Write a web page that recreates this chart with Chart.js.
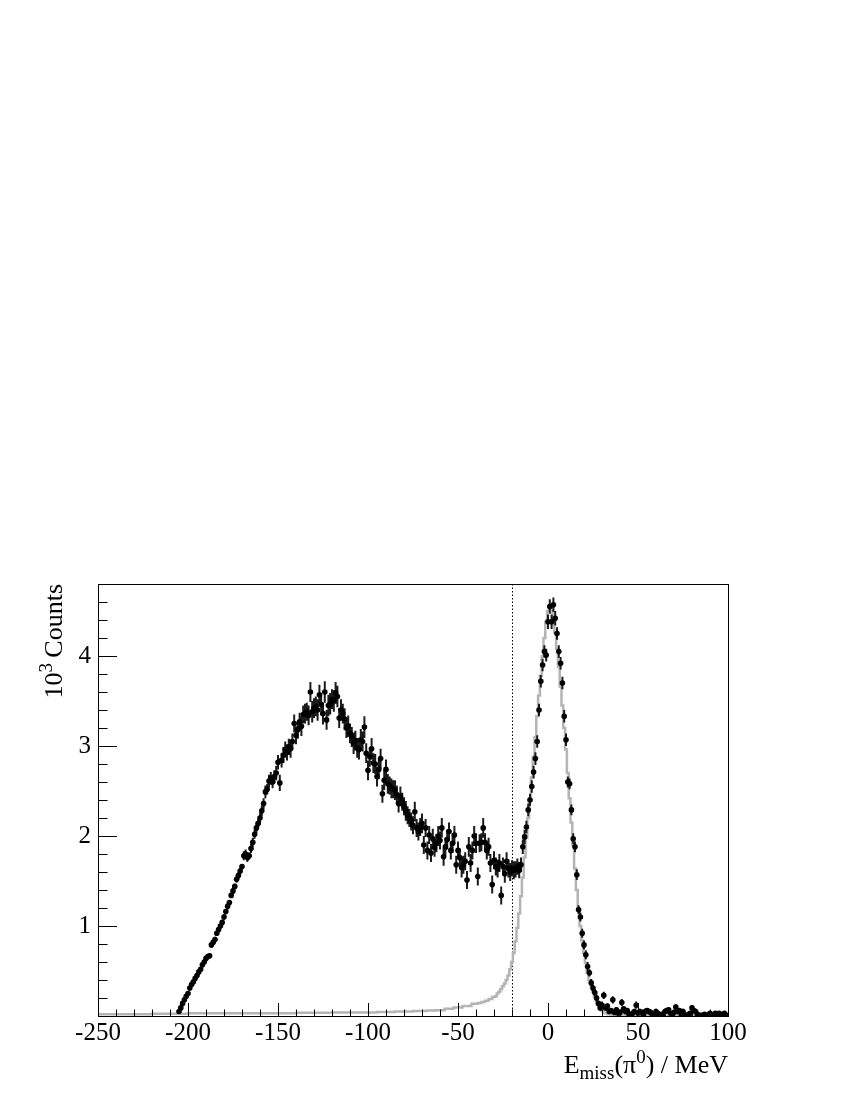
<!DOCTYPE html>
<html>
<head>
<meta charset="utf-8">
<script src="https://cdn.jsdelivr.net/npm/chart.js@4"></script>
<style>
  html, body { margin: 0; padding: 0; background: #fff; }
  #wrap { width: 850px; height: 1100px; }
</style>
</head>
<body>
<div id="wrap"><canvas id="emissChart" width="850" height="1100"></canvas></div>
<script>
// missing energy spectrum, 1 MeV bins, counts in units of 10^3
const firstBin = -205; // centre of first data bin (MeV)

const dataCounts = [
  0.05, 0.09, 0.14, 0.18, 0.22, 0.25, 0.31, 0.35, 0.38, 0.42, // -205
  0.45, 0.49, 0.52, 0.57, 0.60, 0.64, 0.66, 0.67, 0.79, 0.82, // -195
  0.85, 0.92, 0.96, 1.00, 1.04, 1.10, 1.16, 1.22, 1.26, 1.34, // -185
  1.39, 1.44, 1.52, 1.56, 1.61, 1.66, 1.78, 1.80, 1.76, 1.78, // -175
  1.86, 1.93, 2.02, 2.09, 2.14, 2.20, 2.28, 2.36, 2.49, 2.52, // -165
  2.61, 2.64, 2.60, 2.66, 2.70, 2.82, 2.59, 2.84, 2.90, 2.96, // -155
  2.93, 2.99, 2.97, 3.05, 3.25, 3.12, 3.18, 3.27, 3.22, 3.35, // -145
  3.36, 3.38, 3.34, 3.60, 3.38, 3.42, 3.44, 3.40, 3.57, 3.46, // -135
  3.36, 3.60, 3.29, 3.45, 3.47, 3.52, 3.50, 3.59, 3.55, 3.31, // -125
  3.40, 3.36, 3.30, 3.20, 3.22, 3.14, 3.10, 3.03, 3.06, 2.98, // -115
  2.96, 3.07, 3.05, 3.21, 2.92, 2.73, 2.88, 2.97, 2.81, 2.80, // -105
  2.66, 2.74, 2.86, 2.47, 2.62, 2.74, 2.58, 2.56, 2.53, 2.52, // -95
  2.51, 2.46, 2.36, 2.44, 2.38, 2.33, 2.28, 2.23, 2.20, 2.16, // -85
  2.12, 2.27, 2.09, 2.05, 2.10, 2.14, 1.90, 2.09, 1.84, 2.01, // -75
  1.81, 1.97, 1.87, 1.92, 2.00, 1.95, 2.09, 1.77, 1.88, 1.96, // -65
  2.05, 1.84, 1.92, 2.01, 1.68, 1.84, 1.76, 1.65, 1.68, 1.72, // -55
  1.51, 1.88, 1.70, 1.84, 2.00, 1.92, 1.55, 1.92, 1.93, 2.09, // -45
  1.93, 1.84, 1.88, 1.70, 1.46, 1.73, 1.66, 1.64, 1.70, 1.34, // -35
  1.66, 1.58, 1.72, 1.64, 1.60, 1.64, 1.62, 1.63, 1.66, 1.62, // -25
  1.68, 1.88, 1.99, 2.10, 2.29, 2.40, 2.55, 2.71, 2.86, 3.05, // -15
  3.40, 3.72, 3.90, 4.05, 4.01, 4.38, 4.55, 4.38, 4.57, 4.42, // -5
  4.25, 4.05, 3.92, 3.70, 3.33, 3.07, 2.60, 2.58, 2.29, 1.97, // 5
  1.88, 1.57, 1.18, 1.10, 0.92, 0.79, 0.68, 0.55, 0.48, 0.37, // 15
  0.31, 0.26, 0.20, 0.14, 0.09, 0.12, 0.23, 0.09, 0.11, 0.05, // 25
  0.06, 0.18, 0.04, 0.07, 0.03, 0.04, 0.15, 0.08, 0.05, 0.06, // 35
  0.02, 0.01, 0.03, 0.05, 0.12, 0.03, 0.05, 0.04, 0.01, 0.05, // 45
  0.06, 0.05, 0.04, 0.02, 0.01, 0.05, 0.03, 0.01, 0.02, 0.00, // 55
  0.05, 0.06, 0.07, 0.03, 0.01, 0.04, 0.10, 0.05, 0.06, 0.02, // 65
  0.05, 0.01, 0.00, 0.02, 0.03, 0.09, 0.06, 0.05, 0.02, 0.01, // 75
  0.00, 0.01, 0.02, 0.00, 0.01, 0.03, 0.01, 0.00, 0.03, 0.02, // 85
  0.03, 0.01, 0.02, 0.03, 0.01                                // 95
];

const dataErrors = [
  0.02, 0.02, 0.02, 0.02, 0.02, 0.02, 0.02, 0.03, 0.02, 0.03,
  0.02, 0.03, 0.02, 0.03, 0.03, 0.02, 0.03, 0.03, 0.03, 0.03,
  0.03, 0.03, 0.03, 0.03, 0.03, 0.03, 0.03, 0.04, 0.03, 0.03,
  0.04, 0.03, 0.04, 0.04, 0.04, 0.03, 0.05, 0.05, 0.05, 0.04,
  0.05, 0.05, 0.05, 0.06, 0.05, 0.06, 0.06, 0.06, 0.07, 0.06,
  0.07, 0.07, 0.07, 0.07, 0.08, 0.08, 0.09, 0.08, 0.09, 0.09,
  0.09, 0.09, 0.10, 0.09, 0.10, 0.10, 0.10, 0.10, 0.11, 0.10,
  0.11, 0.10, 0.11, 0.11, 0.12, 0.11, 0.11, 0.12, 0.11, 0.12,
  0.12, 0.12, 0.11, 0.12, 0.12, 0.11, 0.12, 0.12, 0.12, 0.11,
  0.12, 0.11, 0.12, 0.11, 0.12, 0.11, 0.11, 0.12, 0.11, 0.11,
  0.11, 0.12, 0.11, 0.12, 0.11, 0.11, 0.11, 0.12, 0.11, 0.11,
  0.11, 0.11, 0.11, 0.10, 0.11, 0.11, 0.11, 0.10, 0.11, 0.10,
  0.11, 0.10, 0.10, 0.11, 0.10, 0.10, 0.11, 0.10, 0.10, 0.10,
  0.10, 0.11, 0.10, 0.10, 0.10, 0.11, 0.10, 0.10, 0.10, 0.10,
  0.10, 0.11, 0.10, 0.10, 0.11, 0.10, 0.11, 0.10, 0.10, 0.11,
  0.10, 0.10, 0.11, 0.10, 0.10, 0.10, 0.10, 0.11, 0.10, 0.10,
  0.10, 0.11, 0.10, 0.10, 0.11, 0.11, 0.10, 0.10, 0.10, 0.11,
  0.10, 0.10, 0.10, 0.10, 0.10, 0.10, 0.10, 0.10, 0.10, 0.10,
  0.10, 0.10, 0.10, 0.10, 0.10, 0.09, 0.10, 0.09, 0.09, 0.09,
  0.08, 0.08, 0.08, 0.07, 0.07, 0.07, 0.07, 0.07, 0.07, 0.07,
  0.07, 0.07, 0.07, 0.07, 0.07, 0.08, 0.08, 0.08, 0.08, 0.08,
  0.07, 0.07, 0.07, 0.07, 0.07, 0.07, 0.06, 0.06, 0.06, 0.06,
  0.06, 0.06, 0.05, 0.05, 0.05, 0.05, 0.05, 0.05, 0.04, 0.04,
  0.04, 0.04, 0.04, 0.03, 0.03, 0.04, 0.04, 0.03, 0.03, 0.03,
  0.03, 0.04, 0.03, 0.03, 0.02, 0.03, 0.04, 0.03, 0.03, 0.03,
  0.02, 0.02, 0.03, 0.03, 0.04, 0.02, 0.03, 0.03, 0.02, 0.03,
  0.03, 0.03, 0.03, 0.02, 0.02, 0.03, 0.02, 0.02, 0.02, 0.02,
  0.03, 0.03, 0.03, 0.02, 0.02, 0.03, 0.03, 0.03, 0.03, 0.02,
  0.03, 0.02, 0.02, 0.02, 0.02, 0.03, 0.03, 0.03, 0.02, 0.02,
  0.02, 0.02, 0.02, 0.02, 0.02, 0.02, 0.02, 0.02, 0.02, 0.02,
  0.02, 0.02, 0.02, 0.02, 0.02
];

// simulated pi0 line shape (grey histogram)
const simEnergy = [
  -250, -230, -210, -190, -170, -150, -130, -110, -100, -90, -80, -70, -65, -60, -55, -50, -45,
  -40, -38, -36, -34, -32, -30, -29, -28, -27, -26, -25, -24, -23, -22, -21, -20, -19, -18,
  -17, -16, -15, -14, -13, -12, -11, -10, -9, -8, -7, -6, -5, -4, -3, -2, -1, 0, 1, 2, 3, 4,
  5, 6, 7, 8, 9, 10, 11, 12, 13, 14, 15, 16, 17, 18, 19, 20, 21, 22, 23, 24, 25, 26, 27, 28,
  29, 30, 31, 32, 34, 36, 40, 50, 60, 80, 100
];
const simCounts = [
  0.02, 0.02, 0.025, 0.03, 0.03, 0.03, 0.035, 0.04, 0.04, 0.045, 0.05, 0.055, 0.06, 0.065, 0.08, 0.095, 0.11,
  0.135, 0.145, 0.155, 0.17, 0.19, 0.21, 0.22, 0.25, 0.27, 0.30, 0.33, 0.36, 0.40, 0.45, 0.52, 0.60, 0.70, 0.83,
  0.98, 1.14, 1.33, 1.54, 1.76, 1.98, 2.20, 2.42, 2.65, 2.88, 3.10, 3.33, 3.56, 3.78, 4.00, 4.20, 4.38, 4.50, 4.56, 4.52, 4.42, 4.26,
  4.08, 3.88, 3.66, 3.45, 3.20, 2.96, 2.70, 2.42, 2.15, 1.90, 1.64, 1.40, 1.18, 1.00, 0.84, 0.70, 0.59, 0.48, 0.40, 0.34, 0.27, 0.21, 0.17, 0.12,
  0.08, 0.06, 0.04, 0.03, 0.02, 0.015, 0.01, 0.01, 0.005, 0.005, 0.005
];

// axis setup
const xTickValues = [-250, -200, -150, -100, -50, 0, 50, 100];
const yTickValues = [1, 2, 3, 4];
const xRange = [-250, 100];
const yRange = [0, 4.8];
const cutValue = -20; // dotted line

const serif = '"Liberation Serif", "Times New Roman", serif';

// error bars, dotted cut, ROOT-like frame with inside ticks, axis titles
const rootStyle = {
  id: 'rootStyle',
  beforeDatasetsDraw(chart) {
    const { ctx, chartArea: a, scales: { x } } = chart;
    const px = Math.round(x.getPixelForValue(cutValue)) + 0.5;
    ctx.save();
    ctx.strokeStyle = '#000';
    ctx.lineWidth = 1;
    ctx.setLineDash([1.5, 2]);
    ctx.beginPath();
    ctx.moveTo(px, a.bottom);
    ctx.lineTo(px, a.top);
    ctx.stroke();
    ctx.restore();
  },
  beforeDatasetDraw(chart, args) {
    if (args.index !== 0) return;
    const { ctx, scales: { x, y } } = chart;
    ctx.save();
    ctx.strokeStyle = '#1c1c1c';
    ctx.lineWidth = 2;
    ctx.beginPath();
    dataCounts.forEach((v, i) => {
      const e = dataErrors[i];
      const px = x.getPixelForValue(firstBin + i);
      ctx.moveTo(px, y.getPixelForValue(Math.max(0, v - e)));
      ctx.lineTo(px, y.getPixelForValue(v + e));
    });
    ctx.stroke();
    ctx.restore();
  },
  afterDraw(chart) {
    const { ctx, chartArea: a, scales: { x, y } } = chart;
    ctx.save();
    ctx.strokeStyle = '#000';
    ctx.lineWidth = 1;
    ctx.strokeRect(a.left + 0.5, a.top + 0.5, a.right - a.left, a.bottom - a.top);

    // x ticks (inside, pointing up)
    ctx.beginPath();
    for (let v = xRange[0]; v <= xRange[1]; v += 10) {
      const px = Math.round(x.getPixelForValue(v)) + 0.5;
      const len = v % 50 === 0 ? 13 : 6.5;
      ctx.moveTo(px, a.bottom);
      ctx.lineTo(px, a.bottom - len);
    }
    // y ticks (inside, pointing right)
    for (let k = 0; k <= 24; k++) {
      const v = k * 0.2;
      const py = Math.round(y.getPixelForValue(v)) + 0.5;
      const len = k % 5 === 0 ? 19 : 9.5;
      ctx.moveTo(a.left, py);
      ctx.lineTo(a.left + len, py);
    }
    ctx.stroke();

    ctx.fillStyle = '#000';
    ctx.textBaseline = 'alphabetic';

    // x title: E_miss(pi^0) / MeV, right aligned
    const big = '26px ' + serif;
    const small = '19px ' + serif;
    const xParts = [
      { t: 'E', f: big, dy: 0 },
      { t: 'miss', f: small, dy: 6 },
      { t: '(\u03c0', f: big, dy: 0 },
      { t: '0', f: small, dy: -10 },
      { t: ') / MeV', f: big, dy: 0 }
    ];
    let total = 0;
    xParts.forEach(p => { ctx.font = p.f; p.w = ctx.measureText(p.t).width; total += p.w; });
    let cx = a.right - total;
    const base = 1073;
    xParts.forEach(p => { ctx.font = p.f; ctx.fillText(p.t, cx, base + p.dy); cx += p.w; });

    // y title: 10^3 Counts, rotated, aligned to top
    const yParts = [
      { t: '10', f: big, dy: 0 },
      { t: '3', f: small, dy: -10 },
      { t: '\u2009Counts', f: big, dy: 0 }
    ];
    total = 0;
    yParts.forEach(p => { ctx.font = p.f; p.w = ctx.measureText(p.t).width; total += p.w; });
    ctx.translate(62, a.top);
    ctx.rotate(-Math.PI / 2);
    cx = -total;
    yParts.forEach(p => { ctx.font = p.f; ctx.fillText(p.t, cx, p.dy); cx += p.w; });
    ctx.restore();
  }
};

new Chart(document.getElementById('emissChart'), {
  type: 'line',
  data: {
    datasets: [
      {
        label: 'data',
        data: dataCounts.map((v, i) => ({ x: firstBin + i, y: v })),
        showLine: false,
        pointRadius: 2.8,
        pointBackgroundColor: '#000',
        pointBorderWidth: 0,
        order: 0
      },
      {
        label: 'simulation',
        data: simEnergy.map((e, i) => ({ x: e, y: simCounts[i] })),
        borderColor: '#b4b4b4',
        borderWidth: 2.5,
        stepped: 'middle',
        pointRadius: 0,
        fill: false,
        order: 1
      }
    ]
  },
  options: {
    responsive: false,
    animation: false,
    devicePixelRatio: 1,
    layout: { padding: { top: 584, right: 122, left: 0, bottom: 0 } },
    plugins: { legend: { display: false }, tooltip: { enabled: false } },
    scales: {
      x: {
        type: 'linear',
        min: xRange[0],
        max: xRange[1],
        grid: { display: false, drawTicks: false },
        border: { display: false },
        afterBuildTicks: s => { s.ticks = xTickValues.map(v => ({ value: v })); },
        afterFit: s => { s.height = 84; },
        ticks: {
          color: '#000',
          padding: 2,
          maxRotation: 0,
          font: { family: serif, size: 25 },
          callback: v => String(v)
        }
      },
      y: {
        type: 'linear',
        min: yRange[0],
        max: yRange[1],
        grid: { display: false, drawTicks: false },
        border: { display: false },
        afterBuildTicks: s => { s.ticks = yTickValues.map(v => ({ value: v })); },
        afterFit: s => { s.width = 98; },
        ticks: {
          color: '#000',
          padding: 7,
          font: { family: serif, size: 25 },
          callback: v => String(v)
        }
      }
    }
  },
  plugins: [rootStyle]
});
</script>
</body>
</html>
